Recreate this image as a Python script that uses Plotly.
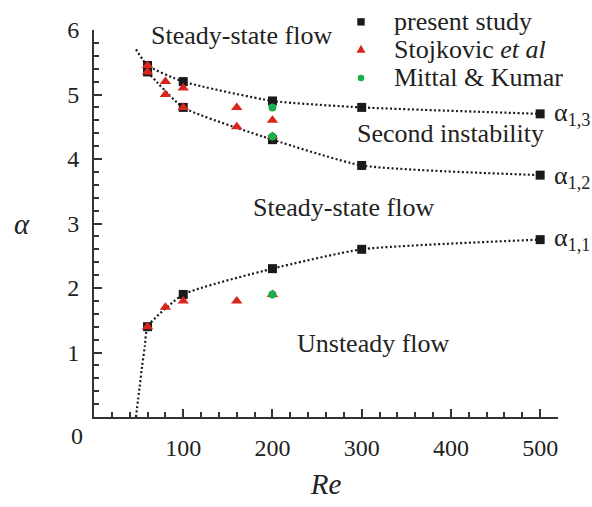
import plotly.graph_objects as go

# Critical wavenumbers from the present study (three branches)
re_present = [60, 100, 200, 300, 500]
alpha_13 = [5.45, 5.2, 4.9, 4.8, 4.7]
alpha_12 = [5.35, 4.8, 4.3, 3.9, 3.75]
alpha_11 = [1.4, 1.9, 2.3, 2.6, 2.75]

# Stojkovic et al
re_stoj = [60, 60, 80, 80, 100, 100, 160, 160, 200, 200, 60, 80, 100, 160, 200]
alpha_stoj = [5.45, 5.35, 5.2, 5.0, 5.1, 4.8, 4.8, 4.5, 4.6, 4.35, 1.4, 1.7, 1.8, 1.8, 1.9]

# Mittal & Kumar
re_mittal = [200, 200, 200]
alpha_mittal = [4.8, 4.35, 1.9]

# Dotted neutral curves (fitted through the present-study points)
curve13_re = [47, 60, 100, 200, 300, 500]
curve13_alpha = [5.7, 5.45, 5.2, 4.9, 4.8, 4.7]
curve12_re = [60, 100, 200, 300, 500]
curve12_alpha = [5.35, 4.8, 4.3, 3.9, 3.75]
curve11_re = [47, 51, 54, 57, 60, 100, 200, 300, 500]
curve11_alpha = [0.0, 0.45, 0.8, 1.1, 1.4, 1.9, 2.3, 2.6, 2.75]

x_major = [100, 200, 300, 400, 500]
x_labels = ["100", "200", "300", "400", "500"]
y_major = [1, 2, 3, 4, 5, 6]
y_labels = ["1", "2", "3", "4", "5", "6"]

FONT = "Liberation Serif, Times New Roman, Times, serif"
TXT = "#222222"
BLACK = "#1a1a1a"
RED = "#d9261c"
GREEN = "#18b04a"
AX = "#333333"

fig = go.Figure()

dotted = dict(color=BLACK, width=2.2, dash="2px,2.4px", shape="spline", smoothing=0.5)
for cx, cy in [(curve13_re, curve13_alpha), (curve12_re, curve12_alpha), (curve11_re, curve11_alpha)]:
    fig.add_trace(go.Scatter(x=cx, y=cy, mode="lines", line=dotted,
                             hoverinfo="skip", showlegend=False, cliponaxis=True))

for ys in (alpha_13, alpha_12, alpha_11):
    fig.add_trace(go.Scatter(x=re_present, y=ys, mode="markers", name="present study",
                             marker=dict(symbol="square", size=9, color=BLACK),
                             showlegend=False, cliponaxis=False))

fig.add_trace(go.Scatter(x=re_stoj, y=alpha_stoj, mode="markers", name="Stojkovic et al",
                         marker=dict(symbol="triangle-up", size=10, color=RED),
                         showlegend=False, cliponaxis=False))

fig.add_trace(go.Scatter(x=re_mittal, y=alpha_mittal, mode="markers", name="Mittal & Kumar",
                         marker=dict(symbol="circle", size=8, color=GREEN),
                         showlegend=False, cliponaxis=False))

axis_common = dict(
    showline=True, linecolor=AX, linewidth=2, mirror=False,
    ticks="inside", ticklen=8, tickwidth=1.6, tickcolor=AX,
    showgrid=False, zeroline=False,
    tickfont=dict(family=FONT, size=24, color=TXT),
)

x_minor = [v for v in range(20, 520, 20) if v % 100 != 0]
y_minor = [round(0.2 * k, 1) for k in range(1, 30) if k % 5 != 0]

fig.update_xaxes(range=[0, 520], tickmode="array", tickvals=x_major, ticktext=x_labels,
                 minor=dict(tickmode="array", tickvals=x_minor, ticks="inside", ticklen=5,
                            tickwidth=1.6, tickcolor=AX, showgrid=False),
                 ticklabelstandoff=8,
                 title=dict(text="<i>Re</i>", font=dict(family=FONT, size=29, color=TXT), standoff=14),
                 **axis_common)
fig.update_yaxes(range=[0, 6], tickmode="array", tickvals=y_major, ticktext=y_labels,
                 minor=dict(tickmode="array", tickvals=y_minor, ticks="inside", ticklen=5,
                            tickwidth=1.6, tickcolor=AX, showgrid=False),
                 ticklabelstandoff=8,
                 **axis_common)

annots = []
label_font = dict(family=FONT, size=26, color=TXT)

# Region labels
for txt, xx, yy in [
    ("Steady-state flow", 165, 5.91),
    ("Second instability", 399, 4.39),
    ("Steady-state flow", 280, 3.25),
    ("Unsteady flow", 313, 1.14),
]:
    annots.append(dict(x=xx, y=yy, xref="x", yref="y", text=txt, showarrow=False,
                       xanchor="center", yanchor="middle", font=label_font))

# Branch labels at the right-hand end of each curve
for txt, yy, dy in [("α<sub>1,3</sub>", alpha_13[-1], 0), ("α<sub>1,2</sub>", alpha_12[-1], -2),
                    ("α<sub>1,1</sub>", alpha_11[-1], 1)]:
    annots.append(dict(x=re_present[-1], y=yy, xref="x", yref="y", text=txt, showarrow=False,
                       xanchor="left", yanchor="middle", xshift=12, yshift=dy, font=label_font))

# Corner origin label and y-axis title
annots.append(dict(x=0, y=0, xref="x", yref="y", text="0", showarrow=False,
                   xanchor="center", yanchor="middle", xshift=-17.5, yshift=-19,
                   font=dict(family=FONT, size=24, color=TXT)))
annots.append(dict(x=-0.156, y=3, xref="paper", yref="y", text="<i>α</i>", showarrow=False,
                   xanchor="center", yanchor="middle",
                   font=dict(family=FONT, size=29, color=TXT)))

# Legend entries
legend_rows = [("present study", 1.021), ("Stojkovic <i>et al</i>", 0.950), ("Mittal &amp; Kumar", 0.876)]
for txt, yy in legend_rows:
    annots.append(dict(x=0.6416, y=yy, xref="paper", yref="paper", text=txt, showarrow=False,
                       xanchor="left", yanchor="middle", font=label_font))

shapes = [
    dict(type="rect", xref="paper", yref="paper", xsizemode="pixel", ysizemode="pixel",
         xanchor=0.5754, yanchor=legend_rows[0][1], x0=-3.7, x1=3.7, y0=-3.7, y1=3.7,
         fillcolor=BLACK, line=dict(width=0)),
    dict(type="path", xref="paper", yref="paper", xsizemode="pixel", ysizemode="pixel",
         xanchor=0.5754, yanchor=legend_rows[1][1], path="M -4.5 -3.5 L 4.5 -3.5 L 0 4.5 Z",
         fillcolor=RED, line=dict(width=0)),
    dict(type="circle", xref="paper", yref="paper", xsizemode="pixel", ysizemode="pixel",
         xanchor=0.5754, yanchor=legend_rows[2][1], x0=-3.3, x1=3.3, y0=-3.3, y1=3.3,
         fillcolor=GREEN, line=dict(width=0)),
]

fig.update_layout(
    width=592, height=507,
    margin=dict(l=94, r=34, t=30, b=74),
    paper_bgcolor="white", plot_bgcolor="white",
    font=dict(family=FONT, color=TXT),
    annotations=annots, shapes=shapes, showlegend=False,
)

fig.write_html("out.html")
